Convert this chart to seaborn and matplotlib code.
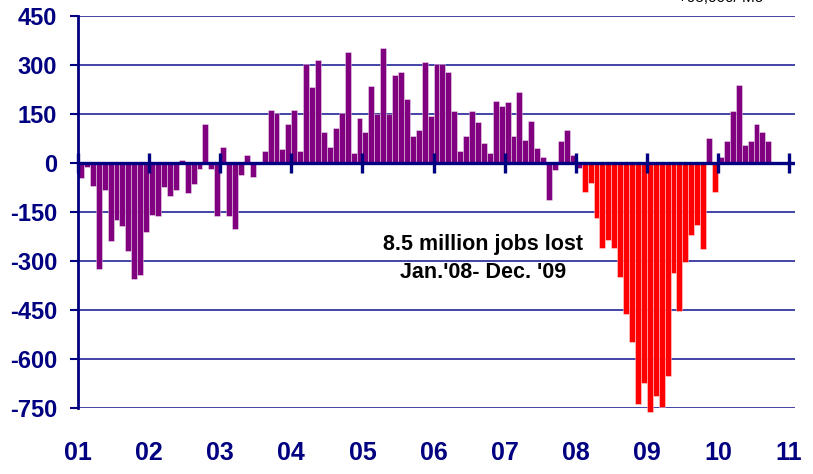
#----------------------------
# Monthly job change 2001-2010
#----------------------------
import pandas as pd
import matplotlib
matplotlib.use("Agg")
import matplotlib.pyplot as plt
import seaborn as sns

# monthly change in payroll jobs (thousands)
jobs_2001 = [-47, -12, -71, -325, -82, -238, -175, -192, -268, -354, -342, -210]
jobs_2002 = [-158, -163, -72, -100, -83, 10, -93, -65, -18, 120, -18, -162]
jobs_2003 = [48, -161, -202, -37, 24, -43, 3, 36, 161, 154, 43, 119]
jobs_2004 = [161, 36, 304, 232, 314, 94, 49, 108, 154, 339, 31, 137]
jobs_2005 = [96, 236, 149, 351, 149, 268, 280, 197, 83, 101, 309, 144]
jobs_2006 = [303, 303, 280, 160, 36, 83, 160, 125, 60, 30, 191, 173]
jobs_2007 = [188, 83, 217, 71, 130, 47, 18, -114, -20, 68, 100, 24]
jobs_2008 = [-15, -90, -61, -168, -260, -237, -260, -349, -461, -549, -737, -673]
jobs_2009 = [-763, -714, -747, -653, -337, -454, -304, -219, -191, -263, 77, -90]
jobs_2010 = [18, 66, 159, 240, 54, 66, 118, 95, 66]

year_labels = ["01", "02", "03", "04", "05", "06", "07", "08", "09", "10", "11"]
y_ticks = [-750, -600, -450, -300, -150, 0, 150, 300, 450]

note_text = "8.5 million jobs lost\nJan.'08- Dec. '09"
top_text = "+95,000/ Mo"

# farben
NAVY = "#000080"
PURPLE = "#800080"
RED = "#ff0000"
GRID = "#3535a0"

#-------------
# Daten bauen
#-------------
werte = (jobs_2001 + jobs_2002 + jobs_2003 + jobs_2004 + jobs_2005 +
         jobs_2006 + jobs_2007 + jobs_2008 + jobs_2009 + jobs_2010)
monate = pd.date_range("2001-01-01", periods=len(werte), freq="MS")
df = pd.DataFrame({"monat": monate, "jobs": werte})
df["pos"] = range(len(df))
df["pos"] = df["pos"] + 0.5
lost = (df["monat"] >= "2008-02-01") & (df["monat"] <= "2009-12-01") & (df["jobs"] < 0)
df["art"] = "gain"
df.loc[lost, "art"] = "lost"

#----------
# Plotten
#----------
sns.set_style("white")
plt.rcParams["font.family"] = ["Liberation Sans", "DejaVu Sans"]

fig = plt.figure(figsize=(8.13, 4.74), dpi=100)
ax = fig.add_axes([78 / 813, 66 / 474, 717 / 813, 392 / 474])

ax.set_axisbelow(True)
ax.yaxis.grid(True, color=GRID, linewidth=1.3)

sns.barplot(data=df, x="pos", y="jobs", hue="art", native_scale=True,
            palette={"gain": PURPLE, "lost": RED}, dodge=False, width=1,
            saturation=1, legend=False, edgecolor=(1, 1, 1, 0.55),
            linewidth=0.5, ax=ax)
for p in ax.patches:
    p.set_clip_on(False)

# null-linie mit jahres-ticks
ax.axhline(0, color=NAVY, linewidth=2.4, zorder=5)
jahr_pos = [12 * i for i in range(len(year_labels))]
ax.plot(jahr_pos, [0] * len(jahr_pos), linestyle="none", marker="|",
        markersize=15, markeredgewidth=2.4, color=NAVY, zorder=6, clip_on=False)

ax.set_xlim(0, 121)
ax.set_ylim(-750, 450)
ax.set_yticks(y_ticks)
ax.set_yticklabels([str(v) for v in y_ticks], fontsize=17, fontweight="bold", color=NAVY)
ax.set_xticks(jahr_pos)
ax.set_xticklabels(year_labels, fontsize=18, fontweight="bold", color=NAVY)
ax.tick_params(axis="y", length=6, width=1.5, color=NAVY, pad=9, left=True)
ax.tick_params(axis="x", length=0, pad=24)
ax.set_xlabel("")
ax.set_ylabel("")

for s in ["top", "right", "bottom"]:
    ax.spines[s].set_visible(False)
ax.spines["left"].set_color(NAVY)
ax.spines["left"].set_linewidth(2)

ax.text(68.3, -292, note_text, ha="center", va="center", fontsize=15.5,
        fontweight="bold", color="black", linespacing=1.4)

# oben rechts, im original abgeschnitten
fig.text(0.886, 0.995, top_text, ha="center", va="baseline", fontsize=11, color="black")

plt.savefig("out.png", dpi=100)
